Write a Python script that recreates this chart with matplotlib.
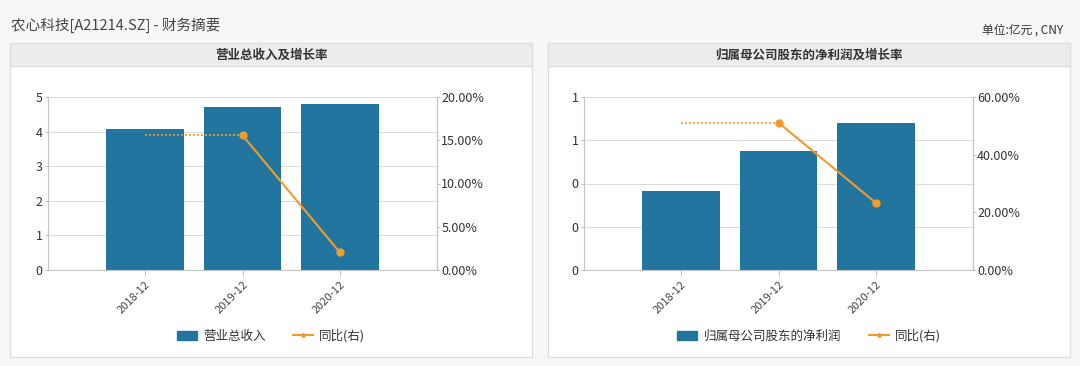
import numpy as np
import matplotlib.pyplot as plt
from matplotlib.patches import Rectangle
from matplotlib.lines import Line2D
from matplotlib.ticker import FuncFormatter, FixedLocator

plt.rcParams['font.family'] = ['Noto Sans CJK SC', 'DejaVu Sans']

# data
periods = ['2018-12', '2019-12', '2020-12']
revenue = [4.07, 4.70, 4.80]
revenue_yoy = [np.nan, 15.57, 2.05]
profit = [0.365, 0.552, 0.681]
profit_yoy = [np.nan, 51.1, 23.3]

BAR = '#21759f'
LINE = '#f39a2e'
W, H = 1080, 366

fig = plt.figure(figsize=(W / 100, H / 100), dpi=100)
fig.patch.set_facecolor('#f6f7f9')


def fx(px):
    return px / W


def fy(py):
    return 1 - py / H


def panel(x0, x1, title):
    # white box with grey header band
    fig.add_artist(Rectangle((fx(x0), fy(357)), fx(x1 - x0), (357 - 43) / H,
                             transform=fig.transFigure, facecolor='white',
                             edgecolor='#dcdfe3', lw=1, zorder=0))
    fig.add_artist(Rectangle((fx(x0), fy(66)), fx(x1 - x0), 23 / H,
                             transform=fig.transFigure, facecolor='#ececec',
                             edgecolor='#dcdfe3', lw=1, zorder=0))
    fig.text(fx((x0 + x1) / 2), fy(55), title, ha='center', va='center',
             fontsize=9, fontweight='bold', color='#333333')


def chart(ax_left, values, yoy, ymax, ystep, ymax2, ystep2, name, cx):
    ax = fig.add_axes([fx(ax_left), fy(270), fx(389), 173 / H])
    ax.set_facecolor('none')
    x = np.arange(len(periods))
    ax.bar(x, values, width=0.8, color=BAR, zorder=2)
    ax.set_xlim(-1, 3)
    ax.set_ylim(0, ymax)
    ax.yaxis.set_major_locator(FixedLocator(np.arange(0, ymax + 1e-9, ystep)))
    ax.yaxis.set_major_formatter(FuncFormatter(lambda v, p: f'{v:.0f}'))
    ax.grid(axis='y', color='#dcdcdc', lw=0.8, zorder=0)
    ax.set_xticks(x)
    ax.set_xticklabels(periods, rotation=45, ha='right', rotation_mode='anchor')
    ax.spines['top'].set_visible(False)
    for s in ['left', 'bottom', 'right']:
        ax.spines[s].set_color('#c4c4c4')
    ax.tick_params(axis='x', length=4, color='#c4c4c4', labelsize=8,
                   labelcolor='#444444', pad=3)
    ax.tick_params(axis='y', length=2, color='#c4c4c4', labelsize=9,
                   labelcolor='#333333', pad=2)

    ax2 = ax.twinx()
    ax2.set_ylim(0, ymax2)
    ax2.yaxis.set_major_locator(FixedLocator(np.arange(0, ymax2 + 1e-9, ystep2)))
    ax2.yaxis.set_major_formatter(FuncFormatter(lambda v, p: f'{v:.2f}%'))
    ax2.tick_params(axis='y', length=2, color='#c4c4c4', labelsize=9,
                    labelcolor='#333333', pad=1)
    for s in ['top', 'left', 'bottom']:
        ax2.spines[s].set_visible(False)
    ax2.spines['right'].set_color('#c4c4c4')
    # missing first value bridged with a dotted segment
    ax2.plot(x[:2], [yoy[1], yoy[1]], ls=(0, (1.2, 1.2)), color=LINE, lw=1.2, zorder=3)
    ax2.plot(x, yoy, color=LINE, lw=1.5, marker='o', ms=5, zorder=3)

    handles = [Rectangle((0, 0), 1, 1, color=BAR),
               Line2D([], [], color=LINE, lw=1.5, marker='o', ms=2.5)]
    fig.legend(handles, [name, '同比(右)'], loc='center',
               bbox_to_anchor=(fx(cx), fy(336)), ncol=2, frameon=False,
               fontsize=9, handlelength=1.6, handleheight=0.8,
               columnspacing=2.2, handletextpad=0.5, labelcolor='#333333')


panel(10, 532, '营业总收入及增长率')
panel(548, 1070, '归属母公司股东的净利润及增长率')

fig.text(fx(11), fy(25), '农心科技[A21214.SZ] - 财务摘要', ha='left', va='center',
         fontsize=10.5, color='#444444')
fig.text(fx(1063), fy(30), '单位:亿元 , CNY', ha='right', va='center',
         fontsize=8.5, color='#333333')

chart(48, revenue, revenue_yoy, 5, 1, 20, 5, '营业总收入', 271)
chart(584, profit, profit_yoy, 0.8, 0.2, 60, 20, '归属母公司股东的净利润', 809)

fig.savefig('out.png', dpi=100, facecolor=fig.get_facecolor())
